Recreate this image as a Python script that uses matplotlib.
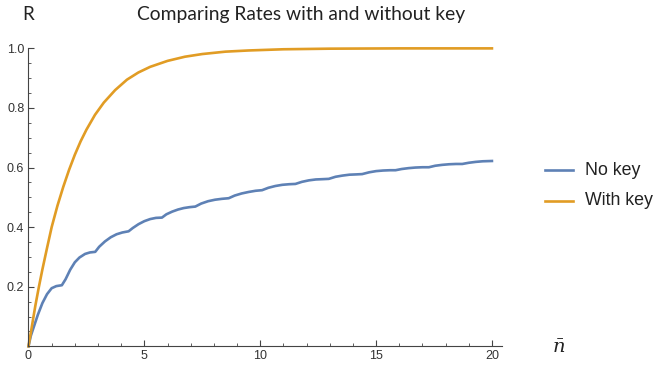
import numpy as np
import matplotlib
matplotlib.use("Agg")
from matplotlib import pyplot as plt
from matplotlib.ticker import MultipleLocator

# values
x_key = [0, 0.1, 0.2, 0.3, 0.45, 0.6, 0.8, 1.0, 1.25, 1.5, 1.75, 2.0, 2.25, 2.5,
         2.87, 3.25, 3.74, 4.25, 4.74, 5.25, 6.0, 6.75, 7.5, 8.5, 9.5, 11, 13,
         16, 20]
r_key = [0, 0.045, 0.092, 0.138, 0.2, 0.258, 0.33, 0.40, 0.472, 0.535, 0.592,
         0.643, 0.688, 0.727, 0.777, 0.818, 0.86, 0.895, 0.919, 0.938, 0.958,
         0.972, 0.981, 0.989, 0.993, 0.997, 0.999, 1.0, 1.0]

x_nokey = [0, 0.1, 0.25, 0.4, 0.6, 0.8, 1.0, 1.2, 1.44,
           1.6, 1.8, 2.0, 2.2, 2.44, 2.65, 2.88,
           3.05, 3.3, 3.55, 3.8, 4.05, 4.32,
           4.5, 4.75, 5.0, 5.25, 5.5, 5.76,
           5.95, 6.2, 6.45, 6.7, 6.95, 7.2,
           7.45, 7.75, 8.05, 8.35, 8.64,
           8.9, 9.2, 9.5, 9.8, 10.08,
           10.35, 10.65, 10.95, 11.25, 11.52,
           11.8, 12.1, 12.4, 12.7, 12.96,
           13.25, 13.55, 13.85, 14.15, 14.4,
           14.7, 15.0, 15.3, 15.6, 15.84,
           16.1, 16.4, 16.7, 17.0, 17.28,
           17.55, 17.85, 18.15, 18.45, 18.72,
           19.0, 19.3, 19.6, 20.0]
r_nokey = [0, 0.035, 0.07, 0.105, 0.145, 0.175, 0.195, 0.202, 0.205,
           0.225, 0.257, 0.282, 0.298, 0.31, 0.315, 0.317,
           0.334, 0.352, 0.366, 0.376, 0.382, 0.386,
           0.397, 0.41, 0.42, 0.427, 0.431, 0.432,
           0.443, 0.452, 0.459, 0.464, 0.467, 0.469,
           0.479, 0.487, 0.492, 0.495, 0.497,
           0.506, 0.513, 0.518, 0.522, 0.524,
           0.532, 0.538, 0.542, 0.544, 0.545,
           0.552, 0.557, 0.56, 0.561, 0.562,
           0.569, 0.573, 0.576, 0.577, 0.578,
           0.584, 0.588, 0.59, 0.591, 0.591,
           0.595, 0.598, 0.6, 0.601, 0.601,
           0.606, 0.609, 0.611, 0.612, 0.612,
           0.616, 0.619, 0.621, 0.622]

labels = ["No key", "With key"]
blue = "#5E81B5"
gold = "#E19C24"

fig = plt.figure(figsize=(6.55, 3.71), dpi=100)
ax = fig.add_axes([0.0435, 0.0666, 0.7224, 0.803])

ax.plot(x_nokey, r_nokey, color=blue, lw=1.9, clip_on=False, solid_joinstyle="round")
ax.plot(x_key, r_key, color=gold, lw=1.9, clip_on=False, solid_joinstyle="round")

ax.set_xlim(0, 20.42)
ax.set_ylim(0, 1.0)

for s in ["top", "right"]:
    ax.spines[s].set_visible(False)
for s in ["left", "bottom"]:
    ax.spines[s].set_color("#444444")
    ax.spines[s].set_linewidth(0.8)

ax.xaxis.set_major_locator(MultipleLocator(5))
ax.xaxis.set_minor_locator(MultipleLocator(1))
ax.yaxis.set_minor_locator(MultipleLocator(0.05))
ax.set_yticks([0.2, 0.4, 0.6, 0.8, 1.0])
ax.set_yticklabels(["0.2", "0.4", "0.6", "0.8", "1.0"])
ax.tick_params(which="both", direction="in", color="#444444", labelcolor="#333333",
               labelsize=9, labelfontfamily="Liberation Sans")
ax.tick_params(which="major", length=4, width=0.8, pad=3)
ax.tick_params(which="minor", length=2.5, width=0.6)

fig.text(0.043, 0.962, "R", ha="center", va="center", fontsize=13.5,
         family="Lato", color="#222222")
fig.text(0.46, 0.962, "Comparing Rates with and without key", ha="center",
         va="center", fontsize=13.9, family="Lato", color="#222222")
fig.text(0.853, 0.062, r"$\bar{n}$", ha="center", va="center", fontsize=14,
         math_fontfamily="dejavuserif", color="#222222")

# legend drawn by hand to the right of the plot
for i, (lab, col) in enumerate(zip(labels, [blue, gold])):
    y = 0.541 - i * 0.082
    fig.add_artist(plt.Line2D([0.832, 0.875], [y, y], color=col, lw=1.9,
                              transform=fig.transFigure))
    fig.text(0.893, y, lab, ha="left", va="center", fontsize=12.8,
             family="Liberation Sans", color="#222222")

fig.savefig("out.png", dpi=100)
